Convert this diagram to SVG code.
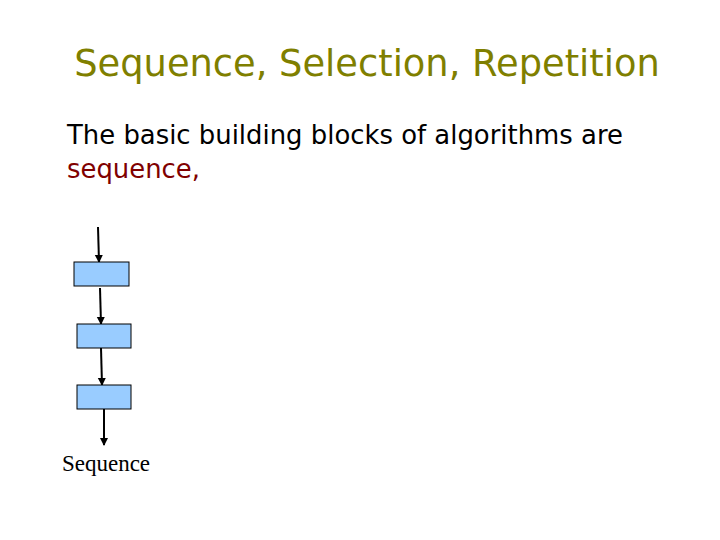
<svg xmlns="http://www.w3.org/2000/svg" width="720" height="540" viewBox="0 0 720 540">
<style>
.box{fill:#99ccff;stroke:#000;stroke-width:1}
.arr{stroke:#000;stroke-width:2;fill:none;marker-end:url(#ah)}
.t{font-family:"DejaVu Sans",sans-serif}
</style>
<defs><marker id="ah" markerWidth="8" markerHeight="10" refX="7" refY="5" orient="auto" markerUnits="userSpaceOnUse"><path d="M0,1 L8,5 L0,9 Z" fill="#000"/></marker></defs>
<rect width="720" height="540" fill="#fff"/>
<text class="t" x="367" y="76" text-anchor="middle" font-size="36.8" fill="#7f7f00">Sequence, Selection, Repetition</text>
<text class="t" x="67" y="144" font-size="25.9" fill="#000">The basic building blocks of algorithms are</text>
<text class="t" x="67" y="178" font-size="25.9" fill="#800000">sequence,</text>
<g id="connectors">
<path class="arr" d="M98,227 L99,262"/>
<path class="arr" d="M100,288 L101,324"/>
<path class="arr" d="M101,348 L102,385"/>
<path class="arr" d="M104,409 L104,445"/>
</g>
<g id="n1"><rect class="box" x="74" y="262" width="55" height="24"/></g>
<g id="n2"><rect class="box" x="77" y="324" width="54" height="24"/></g>
<g id="n3"><rect class="box" x="77" y="385" width="54" height="24"/></g>
<text x="106" y="471" text-anchor="middle" font-family="Liberation Serif,serif" font-size="23">Sequence</text>
</svg>
